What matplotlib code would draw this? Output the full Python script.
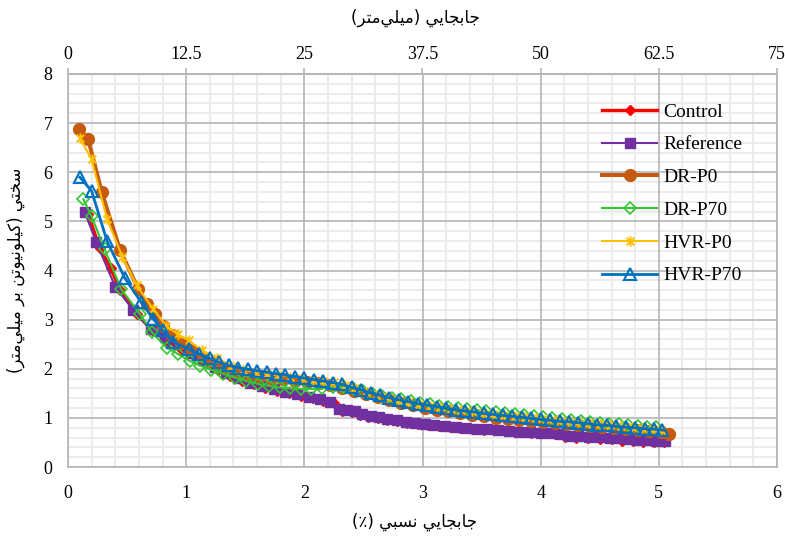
import matplotlib
matplotlib.use("Agg")
import matplotlib.pyplot as plt
from matplotlib.path import Path
from matplotlib.ticker import MultipleLocator, FixedLocator

# ---------------------------------------------------------------- data
series_names = ["Control", "Reference", "DR-P0", "DR-P70", "HVR-P0", "HVR-P70"]

x_control = [0.17, 0.27, 0.36, 0.44, 0.58, 0.72, 0.85, 0.96,
             1.07, 1.17, 1.27, 1.37, 1.47, 1.57, 1.67, 1.77, 1.87, 1.97,
             2.07, 2.16, 2.25, 2.32, 2.40, 2.47, 2.54, 2.62, 2.70, 2.78, 2.87, 2.96,
             3.05, 3.14, 3.23, 3.32, 3.42, 3.52, 3.62, 3.72, 3.82, 3.92,
             4.02, 4.12, 4.21, 4.30, 4.40, 4.50, 4.60, 4.69, 4.78, 4.87, 4.96,
             5.04]
y_control = [5.15, 4.45, 4.05, 3.60, 3.12, 2.76, 2.55, 2.40,
             2.25, 2.11, 1.98, 1.86, 1.76, 1.68, 1.61, 1.55, 1.50, 1.45,
             1.40, 1.35, 1.30, 1.15, 1.12, 1.05, 1.02, 0.99, 0.96, 0.93, 0.90, 0.88,
             0.86, 0.84, 0.82, 0.80, 0.78, 0.76, 0.75, 0.73, 0.72, 0.70,
             0.69, 0.68, 0.61, 0.60, 0.59, 0.58, 0.57, 0.53, 0.52, 0.51, 0.50,
             0.50]

x_reference = [0.14, 0.24, 0.40, 0.55, 0.70, 0.82, 0.93,
               1.04, 1.14, 1.24, 1.34, 1.44, 1.54, 1.64, 1.74, 1.84, 1.94,
               2.04, 2.13, 2.22, 2.29, 2.36, 2.43, 2.49, 2.56, 2.63, 2.70, 2.78, 2.86, 2.94,
               3.02, 3.10, 3.19, 3.28, 3.37, 3.46, 3.55, 3.64, 3.73, 3.82, 3.91,
               4.00, 4.09, 4.17, 4.24, 4.32, 4.41, 4.50, 4.59, 4.67, 4.74, 4.82, 4.90, 4.98,
               5.05]
y_reference = [5.20, 4.57, 3.67, 3.20, 2.80, 2.64, 2.50,
               2.33, 2.17, 2.04, 1.92, 1.81, 1.72, 1.64, 1.58, 1.53, 1.48,
               1.43, 1.38, 1.32, 1.19, 1.16, 1.13, 1.07, 1.04, 1.01, 0.98, 0.95, 0.92, 0.90,
               0.88, 0.86, 0.84, 0.82, 0.80, 0.78, 0.77, 0.75, 0.74, 0.72, 0.71,
               0.70, 0.69, 0.68, 0.64, 0.63, 0.62, 0.61, 0.60, 0.59, 0.56, 0.55, 0.54, 0.53,
               0.52]

x_dr_p0 = [0.09, 0.17, 0.285, 0.44, 0.595, 0.665, 0.736, 0.806, 0.88, 0.96,
           1.05, 1.14, 1.23, 1.32, 1.42, 1.52, 1.62, 1.72, 1.82, 1.92,
           2.02, 2.12, 2.22, 2.32, 2.42, 2.52, 2.62, 2.72, 2.82, 2.92,
           3.02, 3.12, 3.22, 3.32, 3.42, 3.52, 3.62, 3.72, 3.82, 3.92,
           4.02, 4.12, 4.22, 4.32, 4.42, 4.52, 4.62, 4.72, 4.82, 4.92,
           5.02, 5.09]
y_dr_p0 = [6.88, 6.68, 5.60, 4.42, 3.62, 3.31, 3.12, 2.88, 2.68, 2.52,
           2.38, 2.24, 2.12, 2.02, 1.95, 1.89, 1.85, 1.82, 1.79, 1.76,
           1.73, 1.70, 1.66, 1.61, 1.55, 1.48, 1.42, 1.36, 1.31, 1.26,
           1.21, 1.17, 1.13, 1.09, 1.06, 1.03, 1.00, 0.98, 0.96, 0.94,
           0.92, 0.90, 0.88, 0.86, 0.84, 0.82, 0.80, 0.78, 0.76, 0.74,
           0.71, 0.67]

x_dr_p70 = [0.13, 0.20, 0.31, 0.45, 0.61, 0.71, 0.835, 0.93,
            1.03, 1.12, 1.21, 1.31, 1.41, 1.51, 1.61, 1.70, 1.79, 1.88, 1.97,
            2.06, 2.15, 2.24, 2.33, 2.42, 2.50, 2.58, 2.66, 2.74, 2.82, 2.90, 2.98,
            3.06, 3.14, 3.22, 3.30, 3.38, 3.46, 3.54, 3.62, 3.70, 3.78, 3.86, 3.94,
            4.02, 4.10, 4.18, 4.26, 4.34, 4.42, 4.50, 4.58, 4.66, 4.74, 4.82, 4.90, 4.98]
y_dr_p70 = [5.45, 5.10, 4.43, 3.62, 3.11, 2.74, 2.43, 2.30,
            2.16, 2.06, 1.98, 1.90, 1.82, 1.75, 1.69, 1.65, 1.62, 1.60, 1.59,
            1.59, 1.60, 1.62, 1.63, 1.59, 1.54, 1.49, 1.45, 1.41, 1.38, 1.34, 1.31,
            1.28, 1.25, 1.23, 1.20, 1.18, 1.16, 1.13, 1.11, 1.09, 1.07, 1.05, 1.03,
            1.01, 0.99, 0.97, 0.95, 0.93, 0.92, 0.90, 0.88, 0.87, 0.85, 0.84, 0.82, 0.81]

x_hvr_p0 = [0.10, 0.20, 0.33, 0.46, 0.58, 0.72, 0.83, 0.93, 1.02,
            1.13, 1.26, 1.38, 1.48, 1.58, 1.68, 1.78, 1.88, 1.98,
            2.07, 2.16, 2.25, 2.34, 2.43, 2.52, 2.61, 2.70, 2.79, 2.88, 2.97,
            3.06, 3.15, 3.24, 3.33, 3.42, 3.51, 3.60, 3.69, 3.78, 3.87, 3.96,
            4.05, 4.14, 4.23, 4.32, 4.41, 4.50, 4.59, 4.68, 4.77, 4.86, 4.95,
            5.02]
y_hvr_p0 = [6.70, 6.26, 5.05, 4.28, 3.70, 3.22, 2.88, 2.70, 2.58,
            2.38, 2.22, 2.06, 1.98, 1.94, 1.90, 1.87, 1.84, 1.81,
            1.78, 1.76, 1.73, 1.67, 1.60, 1.53, 1.47, 1.42, 1.37, 1.33, 1.29,
            1.25, 1.22, 1.19, 1.16, 1.13, 1.10, 1.08, 1.06, 1.04, 1.02, 1.00,
            0.98, 0.96, 0.94, 0.92, 0.90, 0.88, 0.86, 0.84, 0.82, 0.80, 0.78,
            0.76]

x_hvr_p70 = [0.10, 0.20, 0.33, 0.48, 0.62, 0.72, 0.80, 0.89,
             1.02, 1.11, 1.20, 1.28, 1.36, 1.44, 1.52, 1.60, 1.68, 1.76, 1.84, 1.92,
             2.00, 2.08, 2.16, 2.24, 2.32, 2.40, 2.48, 2.56, 2.64, 2.72, 2.80, 2.88, 2.96,
             3.04, 3.12, 3.20, 3.28, 3.36, 3.44, 3.52, 3.60, 3.68, 3.76, 3.84, 3.92,
             4.00, 4.08, 4.16, 4.24, 4.32, 4.40, 4.48, 4.56, 4.64, 4.72, 4.80, 4.88, 4.96,
             5.03]
y_hvr_p70 = [5.90, 5.62, 4.60, 3.85, 3.35, 3.02, 2.78, 2.55,
             2.40, 2.30, 2.21, 2.13, 2.07, 2.02, 1.99, 1.96, 1.93, 1.90, 1.87, 1.84,
             1.81, 1.78, 1.75, 1.72, 1.68, 1.62, 1.57, 1.51, 1.46, 1.41, 1.37, 1.33, 1.29,
             1.26, 1.23, 1.20, 1.17, 1.14, 1.12, 1.09, 1.07, 1.05, 1.03, 1.01, 0.99,
             0.97, 0.95, 0.93, 0.92, 0.90, 0.88, 0.86, 0.85, 0.83, 0.81, 0.80, 0.78, 0.77,
             0.75]

x_ticks = [0, 1, 2, 3, 4, 5, 6]
y_ticks = [0, 1, 2, 3, 4, 5, 6, 7, 8]
top_tick_labels = ["0", "12.5", "25", "37.5", "50", "62.5", "75"]
mm_per_percent = 12.5

title_top = "جابجایی (میلی\u200cمتر)"
title_bottom = "جابجایی نسبی (٪)"
title_left = "سختی (کیلونیوتن بر میلی\u200cمتر)"

# ------------------------------------------------ Persian text shaping
# (isolated, final, initial, medial); right-joining letters have no
# initial/medial forms.
FORMS = {
    "\u0627": ("\uFE8D", "\uFE8E", None, None),        # alef
    "\u0628": ("\uFE8F", "\uFE90", "\uFE91", "\uFE92"),  # beh
    "\u062A": ("\uFE95", "\uFE96", "\uFE97", "\uFE98"),  # teh
    "\u062C": ("\uFE9D", "\uFE9E", "\uFE9F", "\uFEA0"),  # jeem
    "\u062E": ("\uFEA5", "\uFEA6", "\uFEA7", "\uFEA8"),  # khah
    "\u0631": ("\uFEAD", "\uFEAE", None, None),        # reh
    "\u0633": ("\uFEB1", "\uFEB2", "\uFEB3", "\uFEB4"),  # seen
    "\u0644": ("\uFEDD", "\uFEDE", "\uFEDF", "\uFEE0"),  # lam
    "\u0645": ("\uFEE1", "\uFEE2", "\uFEE3", "\uFEE4"),  # meem
    "\u0646": ("\uFEE5", "\uFEE6", "\uFEE7", "\uFEE8"),  # noon
    "\u0648": ("\uFEED", "\uFEEE", None, None),        # waw
    "\u06CC": ("\uFEF1", "\uFEF2", "\uFEF3", "\uFEF4"),  # yeh (dotted glyphs)
    "\u06A9": ("\uFED9", "\uFEDA", "\uFEDB", "\uFEDC"),  # keheh
}
MIRROR = {"(": ")", ")": "("}


def shape_rtl(text):
    """Pick contextual letter forms and return the string in visual order."""
    chars = list(text)
    out = []
    for i, c in enumerate(chars):
        forms = FORMS.get(c)
        if forms is None:
            if c != "\u200c":
                out.append(c)
            continue
        prev = chars[i - 1] if i > 0 else None
        nxt = chars[i + 1] if i + 1 < len(chars) else None
        join_prev = prev in FORMS and FORMS[prev][2] is not None
        join_next = forms[2] is not None and nxt in FORMS
        if join_prev and join_next:
            out.append(forms[3])
        elif join_prev:
            out.append(forms[1])
        elif join_next:
            out.append(forms[2])
        else:
            out.append(forms[0])
    return "".join(MIRROR.get(c, c) for c in reversed(out))


# ---------------------------------------------------------------- style
SERIF = ["Liberation Serif", "DejaVu Serif"]
PERSIAN = ["DejaVu Sans"]
GRID_MAJOR = "#B5B5B5"
GRID_MINOR = "#EBEBEB"

# asterisk marker: vertical bar plus an X
ASTERISK = Path([(0, -1), (0, 1), (-0.75, -0.75), (0.75, 0.75), (-0.75, 0.75), (0.75, -0.75)],
                [Path.MOVETO, Path.LINETO] * 3)

styles = {
    "Control":   dict(color="#FF0000", lw=2.4, marker="D", ms=5.5, mfc="#FF0000", mec="#FF0000", mew=1.0),
    "Reference": dict(color="#7030A0", lw=1.5, marker="s", ms=7.5, mfc="#7030A0", mec="#7030A0", mew=1.0),
    "DR-P0":     dict(color="#C55A11", lw=2.9, marker="o", ms=8.5, mfc="#C55A11", mec="#C55A11", mew=1.0),
    "DR-P70":    dict(color="#33C633", lw=1.5, marker="D", ms=6.0, mfc="none", mec="#33C633", mew=1.2),
    "HVR-P0":    dict(color="#FFC000", lw=1.5, marker=ASTERISK, ms=7.5, mfc="none", mec="#FFC000", mew=1.4),
    "HVR-P70":   dict(color="#0070C0", lw=2.0, marker="^", ms=8.0, mfc="none", mec="#0070C0", mew=1.5),
}
data = {
    "Control": (x_control, y_control),
    "Reference": (x_reference, y_reference),
    "DR-P0": (x_dr_p0, y_dr_p0),
    "DR-P70": (x_dr_p70, y_dr_p70),
    "HVR-P0": (x_hvr_p0, y_hvr_p0),
    "HVR-P70": (x_hvr_p70, y_hvr_p70),
}

# ---------------------------------------------------------------- figure
W, H = 785, 542
fig = plt.figure(figsize=(W / 100, H / 100), dpi=100)
ax = fig.add_axes([68 / W, (H - 467) / H, (777 - 68) / W, (467 - 74) / H])

for name in series_names:
    xs, ys = data[name]
    st = styles[name]
    ax.plot(xs, ys, label=name, color=st["color"], lw=st["lw"], marker=st["marker"],
            markersize=st["ms"], markerfacecolor=st["mfc"], markeredgecolor=st["mec"],
            markeredgewidth=st["mew"], zorder=3, clip_on=False)

ax.set_xlim(0, 6)
ax.set_ylim(0, 8)
ax.xaxis.set_major_locator(FixedLocator(x_ticks))
ax.yaxis.set_major_locator(FixedLocator(y_ticks))
ax.xaxis.set_minor_locator(MultipleLocator(0.2))
ax.yaxis.set_minor_locator(MultipleLocator(0.2))
ax.set_xticklabels([str(v) for v in x_ticks], fontfamily=SERIF, fontsize=13)
ax.set_yticklabels([str(v) for v in y_ticks], fontfamily=SERIF, fontsize=13)
ax.tick_params(which="both", length=0)
ax.tick_params(axis="x", pad=13)
ax.tick_params(axis="y", pad=11)

# light minor grid underneath, solid major grid drawn on top of it
ax.set_axisbelow(True)
ax.grid(which="minor", color=GRID_MINOR, lw=1.3)
ax.grid(which="major", visible=False)
ax.vlines(x_ticks, 0, 8, colors=GRID_MAJOR, lw=1.2, zorder=1.5)
ax.hlines(y_ticks, 0, 6, colors=GRID_MAJOR, lw=1.2, zorder=1.5)
for side in ("left", "bottom", "right", "top"):
    ax.spines[side].set_color(GRID_MAJOR)
    ax.spines[side].set_linewidth(1.2)
ax.set_xlim(0, 6)
ax.set_ylim(0, 8)

# displacement in millimetres along the top edge
top = ax.secondary_xaxis("top", functions=(lambda p: p * mm_per_percent,
                                            lambda m: m / mm_per_percent))
top.xaxis.set_major_locator(FixedLocator([v * mm_per_percent for v in x_ticks]))
top.set_xticklabels(top_tick_labels, fontfamily=SERIF, fontsize=13)
top.tick_params(axis="x", length=4, width=1.2, color=GRID_MAJOR, pad=4)
top.spines["top"].set_color(GRID_MAJOR)
top.spines["top"].set_linewidth(1.2)

# axis titles
fig.text(415 / W, 1 - 18 / H, shape_rtl(title_top), family=PERSIAN, fontsize=12,
         ha="center", va="center")
fig.text(415 / W, 1 - 522 / H, shape_rtl(title_bottom), family=PERSIAN, fontsize=12,
         ha="center", va="center")
fig.text(16 / W, 1 - 270 / H, shape_rtl(title_left), family=PERSIAN, fontsize=12,
         ha="center", va="center", rotation=90)

leg = ax.legend(loc="upper left", bbox_to_anchor=(602 / W, 1 - 103 / H),
                bbox_transform=fig.transFigure, frameon=False, borderpad=0,
                borderaxespad=0, handlelength=2.85, handletextpad=0.3,
                labelspacing=0.78, prop={"family": SERIF, "size": 14})

fig.savefig("out.png", dpi=100)
